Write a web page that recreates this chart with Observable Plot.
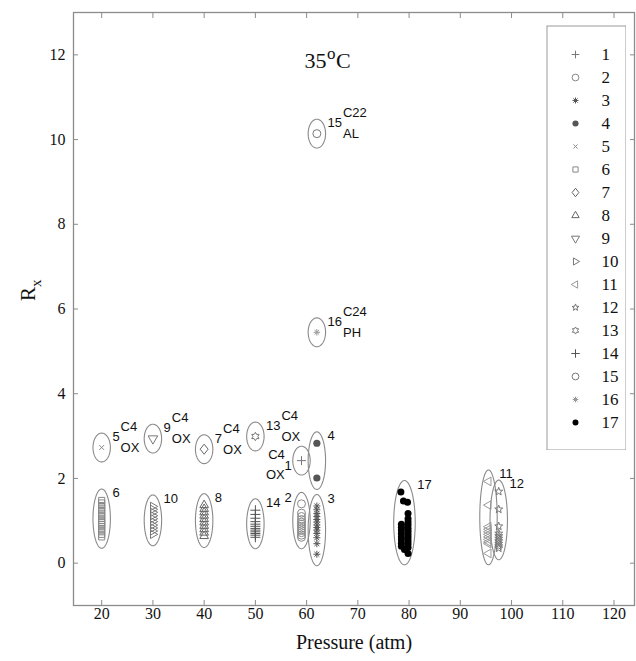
<!DOCTYPE html>
<html>
<head>
<meta charset="utf-8">
<script src="https://cdn.jsdelivr.net/npm/d3@7"></script>
<script src="https://cdn.jsdelivr.net/npm/@observablehq/plot@0.6"></script>
<style>
  body { margin: 0; background: #fff; }
  #chart { position: relative; width: 636px; height: 661px; }
  #legend { position: absolute; left: 546px; top: 25px; }
</style>
</head>
<body>
<div id="chart"></div>
<script>
// ---- data ---------------------------------------------------------------
const sampleIds = d3.range(1, 18);

// Pressure (atm) of sample groups 1-16 (group 17 is listed point by point)
const groupPressure = [59, 59, 62, 62, 20, 20, 40, 40, 30, 30, 95.5, 97.5, 50, 50, 62, 62];

// R_x values of sample groups 1-16
const groupRx = [
  [2.42],
  [1.40, 1.18, 1.10, 1.03, 0.97, 0.92, 0.87, 0.82, 0.77, 0.72, 0.66, 0.61],
  [1.35, 1.26, 1.17, 1.10, 1.03, 0.97, 0.90, 0.84, 0.78, 0.70, 0.60, 0.46, 0.21],
  [2.83, 2.01],
  [2.73],
  [1.48, 1.42, 1.36, 1.30, 1.24, 1.18, 1.12, 1.06, 1.01, 0.96, 0.91, 0.86, 0.80, 0.74, 0.68, 0.62],
  [2.69],
  [1.37, 1.28, 1.20, 1.12, 1.04, 0.96, 0.88, 0.80, 0.72, 0.64],
  [2.94],
  [1.34, 1.27, 1.20, 1.12, 1.05, 0.98, 0.90, 0.83, 0.76, 0.68],
  [1.93, 1.37, 0.86, 0.80, 0.74, 0.68, 0.62, 0.56, 0.50, 0.46, 0.23],
  [1.69, 1.27, 0.87, 0.70, 0.64, 0.58, 0.52, 0.46, 0.40, 0.35],
  [2.99],
  [1.25, 1.15, 1.06, 0.98, 0.92, 0.87, 0.82, 0.78, 0.74, 0.70, 0.66, 0.61],
  [10.14],
  [5.45]
];

// group 17
const pressure17 = [78.4, 78.9, 79.7, 79.8, 79.8, 79.8, 78.5, 79.8, 78.5, 79.8, 78.5, 79.8,
                    78.5, 79.8, 78.5, 79.8, 78.5, 79.8, 78.5, 79.8, 78.5, 79.8, 79.1, 79.8];
const rx17 = [1.68, 1.47, 1.44, 1.17, 1.05, 0.97, 0.92, 0.90, 0.85, 0.82, 0.78, 0.75,
              0.70, 0.67, 0.62, 0.60, 0.55, 0.52, 0.47, 0.45, 0.40, 0.37, 0.32, 0.23];

// compound tags written beside some groups
const tagIds = [5, 9, 7, 13, 1, 15, 16];
const tagUpper = ["C4", "C4", "C4", "C4", "C4", "C22", "C24"];
const tagLower = ["OX", "OX", "OX", "OX", "OX", "AL", "PH"];

const xTicks = [20, 30, 40, 50, 60, 70, 80, 90, 100, 110, 120];
const yTicks = [0, 2, 4, 6, 8, 10, 12];

// ---- layout -------------------------------------------------------------
const W = 636, H = 661;
const mL = 73, mR = 2, mT = 12, mB = 56;
const xDomain = [14.5, 124], yDomain = [-1, 13];
const pxPerAtm = (W - mL - mR) / (xDomain[1] - xDomain[0]);
const serif = "Liberation Serif, Times New Roman, serif";
const sans = "Liberation Sans, Arial, sans-serif";
const axisGrey = "#8c8c8c";

// ---- marker shapes ------------------------------------------------------
const sym = fn => ({ draw(ctx, size) { fn(ctx, Math.sqrt(size / Math.PI)); } });
const plus = sym((c, r) => { c.moveTo(-r, 0); c.lineTo(r, 0); c.moveTo(0, -r); c.lineTo(0, r); });
const cross = sym((c, r) => { const a = r * 0.75; c.moveTo(-a, -a); c.lineTo(a, a); c.moveTo(-a, a); c.lineTo(a, -a); });
const asterisk = sym((c, r) => {
  const a = r * 0.7;
  c.moveTo(-r, 0); c.lineTo(r, 0); c.moveTo(0, -r); c.lineTo(0, r);
  c.moveTo(-a, -a); c.lineTo(a, a); c.moveTo(-a, a); c.lineTo(a, -a);
});
const polygon = (n, start, inner) => sym((c, r) => {
  const k = inner ? 2 * n : n;
  for (let i = 0; i < k; ++i) {
    const a = start + (i * 2 * Math.PI) / k;
    const rr = inner && i % 2 ? r * inner : r;
    const x = rr * Math.cos(a), y = rr * Math.sin(a);
    i ? c.lineTo(x, y) : c.moveTo(x, y);
  }
  c.closePath();
});
const triUp = polygon(3, -Math.PI / 2);
const triDown = polygon(3, Math.PI / 2);
const triRight = polygon(3, 0);
const triLeft = polygon(3, Math.PI);
const pentagram = polygon(5, -Math.PI / 2, 0.42);
const hexagram = polygon(6, -Math.PI / 2, 0.58);
const square = sym((c, r) => { const a = r * 0.9; c.rect(-a, -a, 2 * a, 2 * a); });
const diamond = sym((c, r) => { c.moveTo(0, -r); c.lineTo(r * 0.8, 0); c.lineTo(0, r); c.lineTo(-r * 0.8, 0); c.closePath(); });

const markerStyle = {
  1:  {symbol: plus, r: 4.5, stroke: "#777"},
  2:  {symbol: "circle", r: 4, stroke: "#888"},
  3:  {symbol: asterisk, r: 3.5, stroke: "#555"},
  4:  {symbol: "circle", r: 3.6, fill: "#555"},
  5:  {symbol: cross, r: 3.2, stroke: "#888"},
  6:  {symbol: square, r: 3.4, stroke: "#888"},
  7:  {symbol: diamond, r: 5, stroke: "#666"},
  8:  {symbol: triUp, r: 5, stroke: "#666"},
  9:  {symbol: triDown, r: 5.5, stroke: "#777"},
  10: {symbol: triRight, r: 4.8, stroke: "#777"},
  11: {symbol: triLeft, r: 5, stroke: "#999"},
  12: {symbol: pentagram, r: 4.2, stroke: "#777"},
  13: {symbol: hexagram, r: 4.2, stroke: "#777"},
  14: {symbol: plus, r: 5, stroke: "#555"},
  15: {symbol: "circle", r: 4, stroke: "#777"},
  16: {symbol: asterisk, r: 3.3, stroke: "#999"},
  17: {symbol: "circle", r: 3.5, fill: "#000"}
};
const dotOptions = (g, k = 1) => {
  const s = markerStyle[g];
  return s.fill
    ? {symbol: s.symbol, r: s.r * k, fill: s.fill, stroke: "none"}
    : {symbol: s.symbol, r: s.r * k, fill: "none", stroke: s.stroke, strokeWidth: 1};
};

// ---- derived tables -----------------------------------------------------
const points = [];
groupRx.forEach((vals, i) => vals.forEach(r => points.push({g: i + 1, p: groupPressure[i], r})));
pressure17.forEach((p, i) => points.push({g: 17, p, r: rx17[i]}));

// an ellipse drawn around every group
const ellipses = sampleIds.map(g => {
  const pts = points.filter(d => d.g === g);
  const [p0, p1] = d3.extent(pts, d => d.p);
  const [r0, r1] = d3.extent(pts, d => d.r);
  return {
    g,
    cx: (p0 + p1) / 2,
    cy: (r0 + r1) / 2,
    ax: Math.max(1.7, (p1 - p0) / 2 + 1.4),
    ay: Math.max(0.34, (r1 - r0) / 2 + 0.27)
  };
});
const outline = ellipses.flatMap(e => d3.range(90).map(k => {
  const t = (2 * Math.PI * k) / 90;
  return {g: e.g, p: e.cx + e.ax * Math.cos(t), r: e.cy + e.ay * Math.sin(t)};
}));

const tagOf = new Map(tagIds.map((g, i) => [g, {up: tagUpper[i], lo: tagLower[i]}]));
const leftIds = new Set([1, 2]);
const labels = ellipses.map(e => ({...e, text: String(e.g), tag: tagOf.get(e.g)}));
const rightLabels = labels.filter(d => !leftIds.has(d.g));
const leftTop = labels.filter(d => leftIds.has(d.g) && !d.tag);
const leftMid = labels.filter(d => leftIds.has(d.g) && d.tag);
const rightTagged = rightLabels.filter(d => d.tag);
const tagX = d => d.cx + d.ax + (d.text.length * 7.2 + 3) / pxPerAtm;
const tagXLeft = d => d.cx - d.ax - (d.text.length * 6 + 2) / pxPerAtm;
const annot = {fontFamily: sans, fontSize: 13, fill: "#111"};
const tickText = {fontFamily: serif, fontSize: 16, fill: "#111"};

// ---- chart --------------------------------------------------------------
const chart = Plot.plot({
  width: W, height: H,
  marginLeft: mL, marginRight: mR, marginTop: mT, marginBottom: mB,
  style: {fontFamily: serif, fontSize: "16px", color: "#111", background: "#fff"},
  x: {domain: xDomain},
  y: {domain: yDomain},
  marks: [
    Plot.frame({stroke: axisGrey, strokeWidth: 1.3}),
    // inward ticks on all four sides
    Plot.axisX({ticks: xTicks, tickSize: -5, tickFormat: () => "", label: null, stroke: axisGrey}),
    Plot.axisX({ticks: xTicks, anchor: "top", tickSize: -5, tickFormat: () => "", label: null, stroke: axisGrey}),
    Plot.axisY({ticks: yTicks, tickSize: -5, tickFormat: () => "", label: null, stroke: axisGrey}),
    Plot.axisY({ticks: yTicks, anchor: "right", tickSize: -5, tickFormat: () => "", label: null, stroke: axisGrey}),
    // tick labels
    Plot.text(xTicks, {x: d => d, frameAnchor: "bottom", dy: 13, text: d => String(d), ...tickText}),
    Plot.text(yTicks, {y: d => d, frameAnchor: "left", dx: -8, textAnchor: "end", text: d => String(d), ...tickText}),

    // axis titles
    Plot.text(["Pressure (atm)"], {frameAnchor: "bottom", dy: 43, fontSize: 20, fontFamily: serif, fill: "#111"}),
    Plot.text(["R"], {frameAnchor: "left", dx: -45, dy: -8, rotate: -90, fontSize: 21, fontFamily: serif, fill: "#111"}),
    Plot.text(["x"], {frameAnchor: "left", dx: -37, dy: -22, rotate: -90, fontSize: 15, fontFamily: serif, fill: "#111"}),

    // temperature heading
    Plot.text(["35"], {frameAnchor: "top", dx: -27.5, dy: 55, textAnchor: "end", lineAnchor: "bottom", fontSize: 22, fontFamily: serif, fill: "#111"}),
    Plot.text(["o"], {frameAnchor: "top", dx: -27, dy: 46, textAnchor: "start", lineAnchor: "bottom", fontSize: 17, fontFamily: serif, fill: "#111"}),
    Plot.text(["C"], {frameAnchor: "top", dx: -18, dy: 55, textAnchor: "start", lineAnchor: "bottom", fontSize: 22, fontFamily: serif, fill: "#111"}),

    // group ellipses
    Plot.line(outline, {x: "p", y: "r", z: "g", curve: "linear-closed", stroke: "#8a8a8a", strokeWidth: 1.1}),

    // data points
    ...sampleIds.map(g => Plot.dot(points.filter(d => d.g === g), {x: "p", y: "r", ...dotOptions(g)})),

    // group numbers
    Plot.text(rightLabels, {x: d => d.cx + d.ax, y: d => d.cy + d.ay, text: "text", dx: 2, dy: 4, textAnchor: "start", ...annot}),
    Plot.text(leftTop, {x: d => d.cx - d.ax, y: d => d.cy + d.ay, text: "text", dx: -1, dy: 5, textAnchor: "end", ...annot}),
    Plot.text(leftMid, {x: d => d.cx - d.ax, y: "cy", text: "text", dx: -1, dy: 5, textAnchor: "end", ...annot}),

    // compound tags
    Plot.text(rightTagged, {x: tagX, y: d => d.cy + d.ay, text: d => d.tag.up, dy: -6, textAnchor: "start", ...annot}),
    Plot.text(rightTagged, {x: tagX, y: d => d.cy + d.ay, text: d => d.tag.lo, dy: 15, textAnchor: "start", ...annot}),
    Plot.text(leftMid, {x: tagXLeft, y: "cy", text: d => d.tag.up, dy: -6, textAnchor: "end", ...annot}),
    Plot.text(leftMid, {x: tagXLeft, y: "cy", text: d => d.tag.lo, dy: 14, textAnchor: "end", ...annot})
  ]
});

// ---- legend -------------------------------------------------------------
const legend = Plot.plot({
  width: 80, height: 425, margin: 0,
  style: {background: "#fff"},
  x: {domain: [0, 1], axis: null},
  y: {type: "point", domain: sampleIds, range: [16.7, 408.7], axis: null},
  marks: [
    Plot.frame({stroke: "#999", inset: 0.5}),
    ...sampleIds.map(g => Plot.dot([g], {y: d => d, frameAnchor: "left", dx: 29, ...dotOptions(g, 0.85)})),
    Plot.text(sampleIds, {y: d => d, text: d => String(d), frameAnchor: "left", dx: 55, textAnchor: "start",
                          fontFamily: serif, fontSize: 17, fill: "#111"})
  ]
});
legend.id = "legend";

const root = document.getElementById("chart");
root.append(chart, legend);
</script>
</body>
</html>
